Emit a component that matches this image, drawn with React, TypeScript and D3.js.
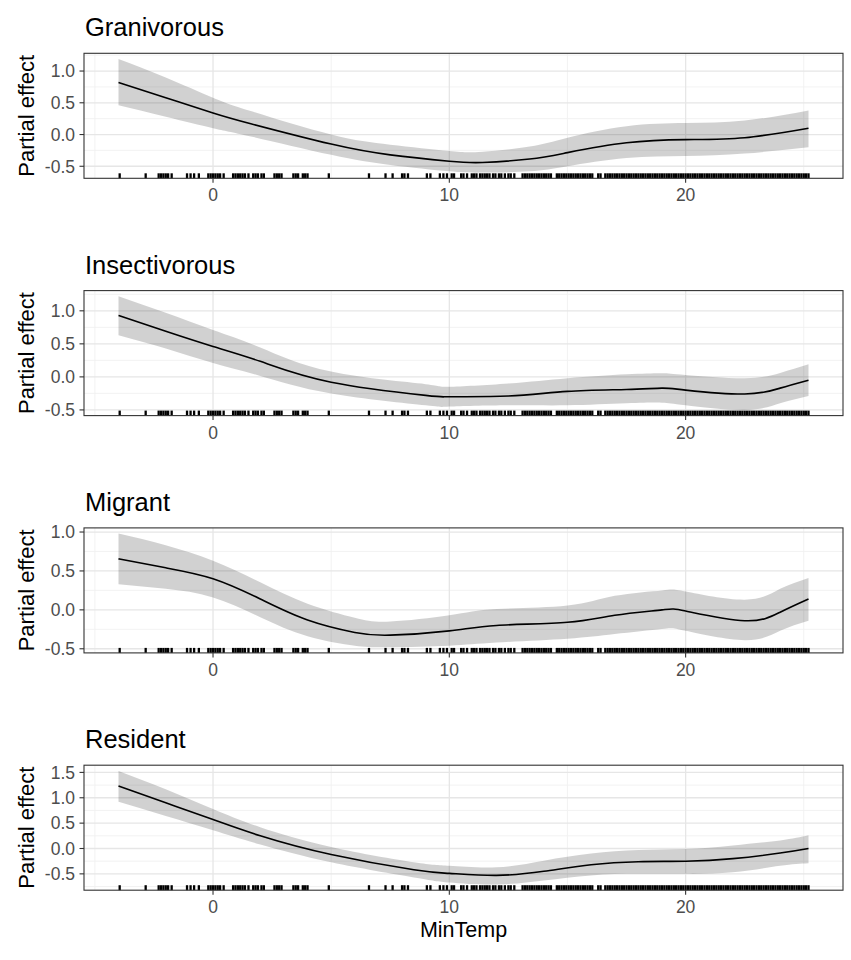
import { useEffect, useRef } from 'react';
import * as d3 from 'd3';

const WIDTH = 851;
const HEIGHT = 960;
const PANEL_LEFT = 84;
const PANEL_RIGHT = 843;
const PANEL_TOP = 53.3;
const PANEL_STEP = 237.3;
const PANEL_HEIGHT = 125;
const FONT = '"Liberation Sans", Arial, Helvetica, sans-serif';

const panelTitles = ['Granivorous', 'Insectivorous', 'Migrant', 'Resident'];
const xTicks = [0, 10, 20];
const xMinorTicks = [-5, 5, 15, 25];

// Granivorous smooth
const granivorousX = [-4, -2, 0, 1.6, 5, 7.5, 10, 11.4, 13.4, 15, 17.5, 20, 22.5, 25.2];
const granivorousFit = [0.82, 0.58, 0.34, 0.17, -0.15, -0.32, -0.42, -0.44, -0.385, -0.285, -0.13, -0.08, -0.05, 0.1];
const granivorousUpper = [1.19, 0.9, 0.58, 0.37, 0.0, -0.16, -0.26, -0.27, -0.19, -0.05, 0.13, 0.18, 0.22, 0.38];
const granivorousLower = [0.46, 0.28, 0.1, -0.03, -0.32, -0.48, -0.58, -0.6, -0.58, -0.5, -0.37, -0.34, -0.3, -0.2];

// Insectivorous smooth
const insectivorousX = [-4, -2, 0, 2, 5, 9, 10, 12.5, 15, 17.5, 19, 20, 22.5, 24, 25.2];
const insectivorousFit = [0.93, 0.69, 0.46, 0.235, -0.08, -0.28, -0.3, -0.29, -0.22, -0.19, -0.17, -0.2, -0.26, -0.17, -0.05];
const insectivorousUpper = [1.22, 0.97, 0.71, 0.445, 0.08, -0.11, -0.15, -0.1, -0.02, 0.04, 0.056, 0.03, -0.02, 0.06, 0.19];
const insectivorousLower = [0.63, 0.43, 0.21, 0.015, -0.25, -0.43, -0.45, -0.43, -0.43, -0.4, -0.39, -0.43, -0.5, -0.4, -0.29];

// Migrant smooth
const migrantX = [-4, -2, 0, 2, 4, 6, 7.5, 10, 12, 15, 17, 19, 20, 22.5, 24, 25.2];
const migrantFit = [0.655, 0.54, 0.4, 0.14, -0.13, -0.29, -0.325, -0.27, -0.2, -0.16, -0.07, 0.0, -0.015, -0.14, -0.03, 0.14];
const migrantUpper = [0.98, 0.83, 0.63, 0.355, 0.08, -0.1, -0.15, -0.07, 0.01, 0.055, 0.18, 0.25, 0.235, 0.13, 0.27, 0.41];
const migrantLower = [0.33, 0.27, 0.16, -0.095, -0.34, -0.46, -0.48, -0.46, -0.42, -0.37, -0.31, -0.245, -0.27, -0.39, -0.27, -0.14];

// Resident smooth
const residentX = [-4, -2, 0, 2, 5, 8.5, 10, 12, 14, 16, 18, 20, 22, 24, 25.2];
const residentFit = [1.23, 0.9, 0.57, 0.25, -0.12, -0.42, -0.49, -0.53, -0.45, -0.32, -0.26, -0.25, -0.2, -0.09, 0.0];
const residentUpper = [1.53, 1.17, 0.78, 0.42, 0.03, -0.27, -0.34, -0.37, -0.24, -0.1, -0.03, -0.01, 0.06, 0.16, 0.26];
const residentLower = [0.92, 0.64, 0.36, 0.08, -0.27, -0.57, -0.67, -0.71, -0.63, -0.53, -0.5, -0.5, -0.47, -0.34, -0.29];

const rugMinTemp = [
    -3.95, -2.85, -2.3, -2.2, -2.1, -2.0, -1.9, -1.75, -1.1, -0.95, -0.8, -0.6,
    -0.2, -0.1, 0.0, 0.1, 0.2, 0.3, 0.45, 0.85, 0.95, 1.05, 1.15, 1.25, 1.35, 1.5,
    1.7, 1.8, 1.9, 2.05, 2.15, 2.6, 2.7, 2.8, 2.9, 3.4, 3.5, 3.6, 3.8, 3.9, 4.0,
    4.9, 6.6, 7.3, 7.6, 8.0, 8.1, 8.25, 9.05, 9.2, 9.6, 9.75, 9.9, 10.1, 10.2,
    10.5, 10.6, 10.75, 10.95, 11.05, 11.15, 11.3, 11.4, 11.5, 11.6, 11.7, 11.85,
    11.95, 12.1, 12.2, 12.35, 12.5, 12.6, 12.75, 13.1, 13.2, 13.3, 13.4, 13.5,
    13.6, 13.7, 13.8, 13.9, 14.0, 14.1, 14.2, 14.3, 14.55, 14.65, 14.75, 14.85,
    14.95, 15.05, 15.15, 15.25, 15.35, 15.45, 15.55, 15.65, 15.75, 15.85, 15.95,
    16.05, 16.3, 16.4, 16.6, 16.7, 16.8, 16.9, 17.0, 17.1, 17.2, 17.3, 17.4, 17.5,
    17.6, 17.7, 17.8, 17.9, 18.0, 18.1, 18.2, 18.3, 18.4, 18.5, 18.6, 18.7, 18.8,
    18.9, 19.0, 19.1, 19.2, 19.3, 19.4, 19.5, 19.6, 19.7, 19.8, 19.9, 20.0, 20.1,
    20.2, 20.3, 20.4, 20.5, 20.6, 20.7, 20.8, 20.9, 21.0, 21.1, 21.2, 21.3, 21.4,
    21.5, 21.6, 21.7, 21.8, 21.9, 22.0, 22.1, 22.2, 22.3, 22.4, 22.5, 22.6, 22.7,
    22.8, 22.9, 23.0, 23.1, 23.2, 23.3, 23.4, 23.5, 23.6, 23.7, 23.8, 23.9, 24.0,
    24.1, 24.2, 24.3, 24.4, 24.5, 24.6, 24.7, 24.8, 24.9, 25.0, 25.1, 25.2,
];

type SmoothPoint = { x: number; fit: number; lower: number; upper: number };

const zipSmooth = (x: number[], fit: number[], lower: number[], upper: number[]): SmoothPoint[] =>
    x.map((v, i) => ({ x: v, fit: fit[i], lower: lower[i], upper: upper[i] }));

const panels = [
    zipSmooth(granivorousX, granivorousFit, granivorousLower, granivorousUpper),
    zipSmooth(insectivorousX, insectivorousFit, insectivorousLower, insectivorousUpper),
    zipSmooth(migrantX, migrantFit, migrantLower, migrantUpper),
    zipSmooth(residentX, residentFit, residentLower, residentUpper),
];

// ggplot-like 5% expansion
const expand = (lo: number, hi: number): [number, number] => {
    const pad = (hi - lo) * 0.05;
    return [lo - pad, hi + pad];
};

export default function App() {
    const ref = useRef<SVGSVGElement>(null);

    useEffect(() => {
        if (!ref.current) return;
        const svg = d3.select(ref.current);
        svg.selectAll('*').remove();

        const allX = [...rugMinTemp, ...panels.flatMap((p) => p.map((d) => d.x))];
        const [xLo, xHi] = d3.extent(allX) as [number, number];
        const xScale = d3.scaleLinear().domain(expand(xLo, xHi)).range([PANEL_LEFT, PANEL_RIGHT]);

        panels.forEach((data, i) => {
            const top = PANEL_TOP + i * PANEL_STEP;
            const bottom = top + PANEL_HEIGHT;
            const lo = d3.min(data, (d) => d.lower) ?? 0;
            const hi = d3.max(data, (d) => d.upper) ?? 1;
            const yScale = d3.scaleLinear().domain(expand(lo, hi)).range([bottom, top]);
            const [yMin, yMax] = yScale.domain();

            const majorY = d3.range(-0.5, yMax + 1e-9, 0.5).filter((v) => v >= yMin);
            const minorY = d3.range(-0.75, yMax + 1e-9, 0.5).filter((v) => v >= yMin);

            const g = svg.append('g');

            g.append('rect')
                .attr('x', PANEL_LEFT)
                .attr('y', top)
                .attr('width', PANEL_RIGHT - PANEL_LEFT)
                .attr('height', PANEL_HEIGHT)
                .attr('fill', '#ffffff');

            // minor grid
            g.selectAll('.minor-y')
                .data(minorY)
                .join('line')
                .attr('x1', PANEL_LEFT)
                .attr('x2', PANEL_RIGHT)
                .attr('y1', (d) => yScale(d))
                .attr('y2', (d) => yScale(d))
                .attr('stroke', '#f0f0f0')
                .attr('stroke-width', 0.9);
            g.selectAll('.minor-x')
                .data(xMinorTicks)
                .join('line')
                .attr('x1', (d) => xScale(d))
                .attr('x2', (d) => xScale(d))
                .attr('y1', top)
                .attr('y2', bottom)
                .attr('stroke', '#f0f0f0')
                .attr('stroke-width', 0.9);

            // major grid
            g.selectAll('.major-y')
                .data(majorY)
                .join('line')
                .attr('x1', PANEL_LEFT)
                .attr('x2', PANEL_RIGHT)
                .attr('y1', (d) => yScale(d))
                .attr('y2', (d) => yScale(d))
                .attr('stroke', '#e6e6e6')
                .attr('stroke-width', 1.3);
            g.selectAll('.major-x')
                .data(xTicks)
                .join('line')
                .attr('x1', (d) => xScale(d))
                .attr('x2', (d) => xScale(d))
                .attr('y1', top)
                .attr('y2', bottom)
                .attr('stroke', '#e6e6e6')
                .attr('stroke-width', 1.3);

            const ribbon = d3.area<SmoothPoint>()
                .x((d) => xScale(d.x))
                .y0((d) => yScale(d.lower))
                .y1((d) => yScale(d.upper))
                .curve(d3.curveNatural);

            const line = d3.line<SmoothPoint>()
                .x((d) => xScale(d.x))
                .y((d) => yScale(d.fit))
                .curve(d3.curveNatural);

            g.append('path')
                .datum(data)
                .attr('fill', '#000000')
                .attr('fill-opacity', 0.18)
                .attr('d', ribbon);

            g.append('path')
                .datum(data)
                .attr('fill', 'none')
                .attr('stroke', '#000000')
                .attr('stroke-width', 1.6)
                .attr('d', line);

            // rug
            g.selectAll('.rug')
                .data(rugMinTemp)
                .join('line')
                .attr('x1', (d) => xScale(d))
                .attr('x2', (d) => xScale(d))
                .attr('y1', bottom)
                .attr('y2', bottom - 5)
                .attr('stroke', '#000000')
                .attr('stroke-width', 2.3);

            // panel border
            g.append('rect')
                .attr('x', PANEL_LEFT)
                .attr('y', top)
                .attr('width', PANEL_RIGHT - PANEL_LEFT)
                .attr('height', PANEL_HEIGHT)
                .attr('fill', 'none')
                .attr('stroke', '#333333')
                .attr('stroke-width', 1.1);

            // y axis
            const yAxis = g.append('g');
            yAxis.selectAll('line')
                .data(majorY)
                .join('line')
                .attr('x1', PANEL_LEFT - 4.5)
                .attr('x2', PANEL_LEFT)
                .attr('y1', (d) => yScale(d))
                .attr('y2', (d) => yScale(d))
                .attr('stroke', '#333333')
                .attr('stroke-width', 1.1);
            yAxis.selectAll('text')
                .data(majorY)
                .join('text')
                .attr('x', PANEL_LEFT - 9)
                .attr('y', (d) => yScale(d))
                .attr('dy', '0.36em')
                .attr('text-anchor', 'end')
                .attr('font-family', FONT)
                .attr('font-size', 17.5)
                .attr('fill', '#4d4d4d')
                .text((d) => d.toFixed(1));

            // x axis
            const xAxis = g.append('g');
            xAxis.selectAll('line')
                .data(xTicks)
                .join('line')
                .attr('x1', (d) => xScale(d))
                .attr('x2', (d) => xScale(d))
                .attr('y1', bottom)
                .attr('y2', bottom + 4.5)
                .attr('stroke', '#333333')
                .attr('stroke-width', 1.1);
            xAxis.selectAll('text')
                .data(xTicks)
                .join('text')
                .attr('x', (d) => xScale(d))
                .attr('y', bottom + 23)
                .attr('text-anchor', 'middle')
                .attr('font-family', FONT)
                .attr('font-size', 17.5)
                .attr('fill', '#4d4d4d')
                .text((d) => String(d));

            // y title
            g.append('text')
                .attr('transform', `translate(33.5,${(top + bottom) / 2}) rotate(-90)`)
                .attr('text-anchor', 'middle')
                .attr('font-family', FONT)
                .attr('font-size', 22)
                .attr('fill', '#000000')
                .text('Partial effect');

            // panel title
            g.append('text')
                .attr('x', PANEL_LEFT + 1)
                .attr('y', top - 17)
                .attr('font-family', FONT)
                .attr('font-size', 25.5)
                .attr('fill', '#000000')
                .text(panelTitles[i]);
        });

        svg.append('text')
            .attr('x', (PANEL_LEFT + PANEL_RIGHT) / 2)
            .attr('y', 937)
            .attr('text-anchor', 'middle')
            .attr('font-family', FONT)
            .attr('font-size', 21.5)
            .attr('fill', '#000000')
            .text('MinTemp');
    }, []);

    return (
        <svg
            ref={ref}
            width={WIDTH}
            height={HEIGHT}
            viewBox={`0 0 ${WIDTH} ${HEIGHT}`}
            style={{ position: 'absolute', left: 0, top: 0, background: '#ffffff' }}
        />
    );
}
